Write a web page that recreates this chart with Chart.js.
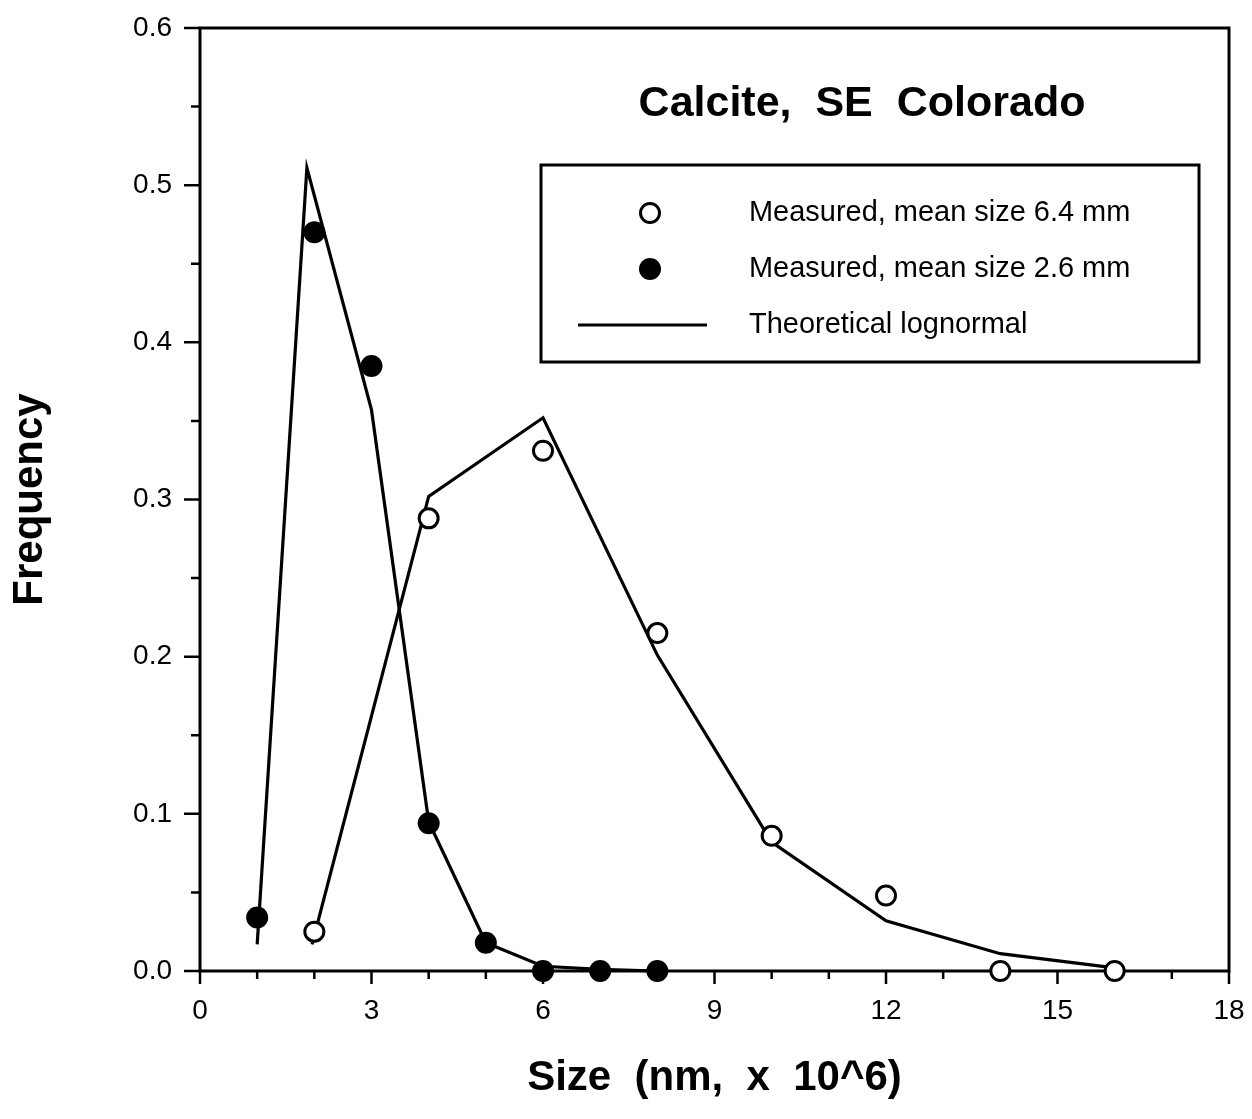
<!DOCTYPE html>
<html>
<head>
<meta charset="utf-8">
<title>Calcite, SE Colorado</title>
<script src="https://cdn.jsdelivr.net/npm/chart.js@4/dist/chart.umd.min.js"></script>
<style>
  html, body { margin: 0; padding: 0; background: #fff; }
</style>
</head>
<body>
<canvas id="chart" width="1252" height="1119"></canvas>
<script>
// Measured size distributions (frequency vs size)
const smallSizes = [1, 2, 3, 4, 5, 6, 7, 8];
const smallFreq = [0.034, 0.470, 0.385, 0.094, 0.018, 0.0, 0.0, 0.0];
const largeSizes = [2, 4, 6, 8, 10, 12, 14, 16];
const largeFreq = [0.025, 0.288, 0.331, 0.215, 0.086, 0.048, 0.0, 0.0];

// Theoretical lognormal curves
const smallFitSizes = [1.0, 1.87, 3.0, 4.0, 5.0, 6.0, 7.0, 8.0];
const smallFitFreq = [0.017, 0.511, 0.357, 0.095, 0.018, 0.003, 0.001, 0.0];
const largeFitSizes = [1.96, 4.0, 6.0, 8.0, 10.0, 12.0, 14.0, 16.0];
const largeFitFreq = [0.017, 0.302, 0.352, 0.201, 0.082, 0.032, 0.011, 0.002];

// Labelled ticks
const xTicks = [0, 3, 6, 9, 12, 15, 18];
const yTicks = [0.0, 0.1, 0.2, 0.3, 0.4, 0.5, 0.6];

const legendLabels = [
  "Measured, mean size 6.4 mm",
  "Measured, mean size 2.6 mm",
  "Theoretical lognormal"
];
const chartTitle = "Calcite,  SE  Colorado";
const xTitle = "Size  (nm,  x  10^6)";
const yTitle = "Frequency";

const FONT = "'Liberation Sans', Arial, Helvetica, sans-serif";

function toPoints(xs, ys) {
  return xs.map((x, i) => ({ x: x, y: ys[i] }));
}

function isMajorY(v) {
  return yTicks.some(t => Math.abs(t - v) < 1e-6);
}

// Box frame and tick marks (major ticks longer than minor ones)
const framePlugin = {
  id: "frame",
  beforeDatasetsDraw(chart) {
    const ctx = chart.ctx;
    const { left, right, top, bottom } = chart.chartArea;
    const xs = chart.scales.x;
    const ys = chart.scales.y;
    ctx.save();
    ctx.strokeStyle = "#000";
    ctx.lineWidth = 3;
    ctx.strokeRect(left, top, right - left, bottom - top);
    ctx.lineWidth = 2.5;
    ctx.beginPath();
    xs.ticks.forEach(t => {
      const px = xs.getPixelForValue(t.value);
      const len = xTicks.includes(t.value) ? 13 : 8;
      ctx.moveTo(px, bottom);
      ctx.lineTo(px, bottom + len);
    });
    ys.ticks.forEach(t => {
      const py = ys.getPixelForValue(t.value);
      const len = isMajorY(t.value) ? 16 : 9;
      ctx.moveTo(left - len, py);
      ctx.lineTo(left, py);
    });
    ctx.stroke();
    ctx.restore();
  },
  afterDraw(chart) {
    const ctx = chart.ctx;
    const { left, top } = chart.chartArea;
    const ds = chart.data.datasets;
    ctx.save();
    ctx.fillStyle = "#000";

    // Title inside the plot
    ctx.font = "bold 43px " + FONT;
    ctx.textAlign = "center";
    ctx.textBaseline = "middle";
    ctx.fillText(chartTitle, left + 662, top + 76);

    // Legend box
    const bx = left + 341, by = top + 137, bw = 658, bh = 197;
    ctx.lineWidth = 3;
    ctx.strokeStyle = "#000";
    ctx.strokeRect(bx, by, bw, bh);

    const mx = bx + 109;
    const tx = bx + 208;
    const rows = [by + 48, by + 104, by + 160];

    // open circle
    ctx.beginPath();
    ctx.arc(mx, rows[0], ds[0].pointRadius, 0, Math.PI * 2);
    ctx.fillStyle = ds[0].pointBackgroundColor;
    ctx.fill();
    ctx.lineWidth = ds[0].pointBorderWidth;
    ctx.strokeStyle = ds[0].pointBorderColor;
    ctx.stroke();

    // filled circle
    ctx.beginPath();
    ctx.arc(mx, rows[1], ds[1].pointRadius, 0, Math.PI * 2);
    ctx.fillStyle = ds[1].pointBackgroundColor;
    ctx.fill();

    // line sample
    ctx.beginPath();
    ctx.moveTo(bx + 37, rows[2]);
    ctx.lineTo(bx + 166, rows[2]);
    ctx.lineWidth = ds[2].borderWidth;
    ctx.strokeStyle = ds[2].borderColor;
    ctx.stroke();

    // slightly condensed legend text
    ctx.fillStyle = "#000";
    ctx.font = "30px " + FONT;
    ctx.textAlign = "left";
    ctx.textBaseline = "middle";
    legendLabels.forEach((label, i) => {
      ctx.save();
      ctx.translate(tx, rows[i]);
      ctx.scale(0.965, 1);
      ctx.fillText(label, 0, 0);
      ctx.restore();
    });
    ctx.restore();
  }
};

const lineStyle = {
  showLine: true,
  borderColor: "#000",
  borderWidth: 3.2,
  pointRadius: 0,
  fill: false,
  clip: false,
  order: 2
};

new Chart(document.getElementById("chart"), {
  type: "scatter",
  data: {
    datasets: [
      {
        label: legendLabels[0],
        data: toPoints(largeSizes, largeFreq),
        pointRadius: 9.5,
        pointBackgroundColor: "#fff",
        pointBorderColor: "#000",
        pointBorderWidth: 3,
        clip: false,
        order: 0
      },
      {
        label: legendLabels[1],
        data: toPoints(smallSizes, smallFreq),
        pointRadius: 11,
        pointBackgroundColor: "#000",
        pointBorderColor: "#000",
        pointBorderWidth: 0,
        clip: false,
        order: 1
      },
      Object.assign({ label: legendLabels[2], data: toPoints(largeFitSizes, largeFitFreq) }, lineStyle),
      Object.assign({ label: legendLabels[2], data: toPoints(smallFitSizes, smallFitFreq) }, lineStyle)
    ]
  },
  options: {
    responsive: false,
    animation: false,
    devicePixelRatio: 1,
    layout: { padding: { top: 28, right: 23, left: 0, bottom: 0 } },
    plugins: {
      legend: { display: false },
      tooltip: { enabled: false }
    },
    scales: {
      x: {
        type: "linear",
        min: 0,
        max: 18,
        grid: { display: false, drawTicks: false },
        border: { display: false },
        ticks: {
          stepSize: 1,
          autoSkip: false,
          maxRotation: 0,
          padding: 23,
          color: "#000",
          font: { family: FONT, size: 28 },
          callback: v => (xTicks.includes(v) ? String(v) : "")
        },
        title: {
          display: true,
          text: xTitle,
          color: "#000",
          font: { family: FONT, size: 42, weight: "bold" },
          padding: { top: 0, bottom: 15 }
        },
        afterFit: scale => {
          scale.height = 148;
          scale.paddingLeft = 0;
          scale.paddingRight = 0;
        }
      },
      y: {
        type: "linear",
        min: 0,
        max: 0.6,
        grid: { display: false, drawTicks: false },
        border: { display: false },
        ticks: {
          stepSize: 0.05,
          autoSkip: false,
          padding: 28,
          color: "#000",
          font: { family: FONT, size: 28 },
          callback: v => (isMajorY(v) ? v.toFixed(1) : "")
        },
        title: {
          display: true,
          text: yTitle,
          color: "#000",
          font: { family: FONT, size: 42, weight: "bold" },
          padding: { top: 5, bottom: 0 }
        },
        afterFit: scale => {
          scale.width = 200;
          scale.paddingTop = 0;
          scale.paddingBottom = 0;
        }
      }
    }
  },
  plugins: [framePlugin]
});
</script>
</body>
</html>
